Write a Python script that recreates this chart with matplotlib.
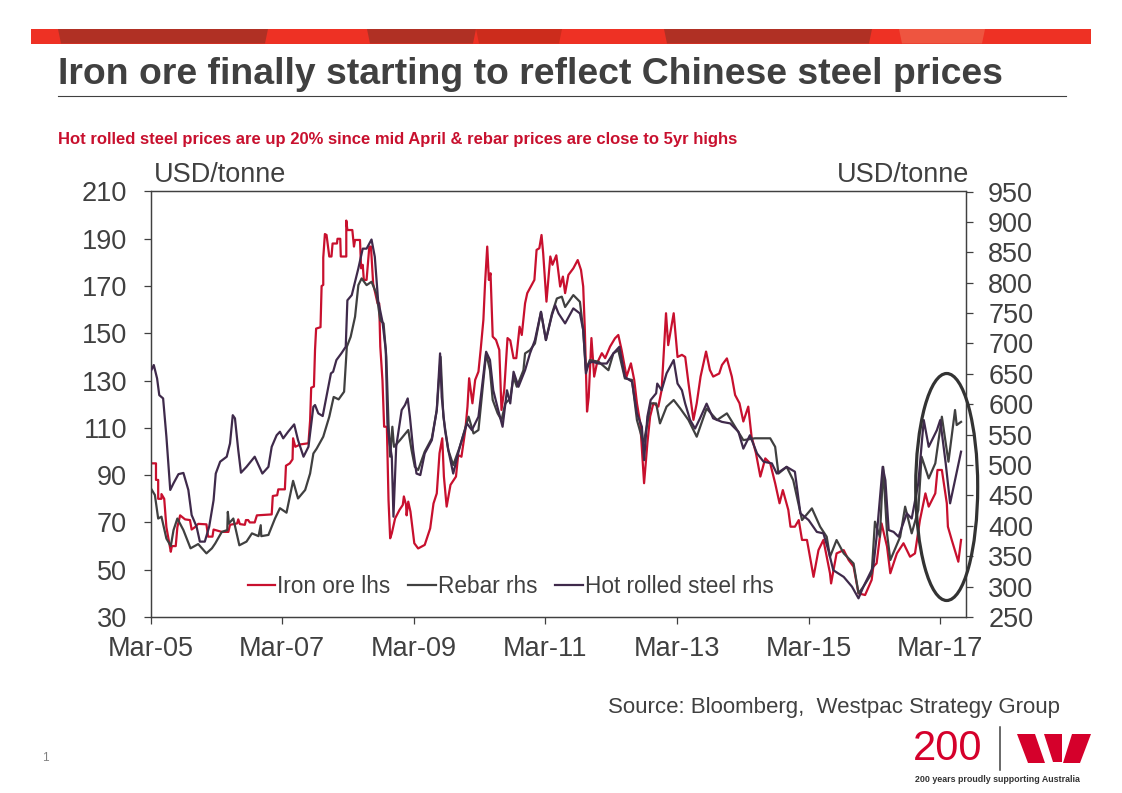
import matplotlib
matplotlib.use("Agg")
import matplotlib.pyplot as plt
from matplotlib.patches import Ellipse, Polygon, Rectangle

plt.rcParams["font.family"] = ["Liberation Sans", "DejaVu Sans"]

# x values are months since Mar-05
iron_t = [0, 1, 1, 1.4, 1.4, 2, 2, 2.5, 2.9, 3.7, 3.9, 4.6, 4.9, 5.4, 6.3, 7.2, 7.5, 8.1, 8.7, 10.2, 10.5, 11.3, 11.5, 13, 14.2, 14.5, 15.8, 16, 16.3, 17.2,
          17.4, 17.8, 18.1, 19, 19.4, 22.1, 22.3, 23.1, 23.3, 24.5, 24.7, 25.4, 25.9, 26, 26.4, 27.3, 28.8, 29.1, 29.3, 29.8, 30, 30.2, 31, 31.2, 31.5, 31.5, 31.8, 32.1, 32.6, 33,
          33.2, 34, 34.1, 34.6, 34.7, 35.7, 35.7, 35.9, 36.8, 37.1, 37.3, 38.2, 38.4, 38.7, 38.9, 39.4, 39.9, 40.2, 40.6, 41.4, 41.7, 41.9, 42.3, 42.6, 43.1, 43.4, 43.7, 44, 44.6, 45.4,
          46, 46.2, 46.6, 46.7, 47, 47.4, 48.1, 48.8, 50, 51, 51.6, 52.2, 52.7, 53.2, 53.5, 54, 54.7, 55.7, 56.1, 56.7, 57.4, 57.8, 58.1, 58.7, 59.2, 59.8, 60.2, 60.7, 61, 61.4,
          61.7, 62, 62.4, 63, 63.6, 64, 64.5, 65.1, 65.6, 66.2, 66.7, 67.3, 67.7, 68.3, 68.7, 69.5, 70, 70.4, 70.9, 71.3, 71.6, 72.2, 72.9, 73.3, 74, 74.7, 75.2, 75.6, 76.2, 77.1,
          77.9, 78.5, 78.9, 79.2, 79.6, 79.9, 80.4, 80.9, 81.4, 82.3, 82.9, 83.8, 84.7, 85.3, 85.9, 86.8, 87.6, 88.2, 88.7, 89.3, 90, 90.6, 91.1, 91.7, 92.6, 93.2, 94, 94.4, 95.4, 96.1,
          96.9, 97.5, 98.1, 99, 99.6, 100.3, 101.3, 102, 102.6, 103.7, 104.2, 105.1, 106, 106.6, 107.4, 108.1, 109, 109.6, 110.4, 111.2, 112.1, 113, 113.9, 114.7, 115.3, 116.3, 116.7, 117.5, 118.2, 118.8,
          119.7, 120.9, 121.8, 122.7, 123.9, 124.1, 125.1, 126.4, 127.3, 128.2, 129.1, 130.3, 131.5, 131.8, 132.4, 133.3, 134.3, 134.9, 136.1, 137.3, 138.5, 139.4, 140.3, 141.3, 141.9, 143.1, 143.5, 144.3, 145.2, 145.4,
          146.1, 147.3, 147.8]
iron_v = [95, 95, 88, 88, 80, 80, 82, 80, 68, 57.6, 60, 60, 68, 73, 71.3, 71, 67, 68, 69.4, 69.2, 64, 64, 67, 66, 66, 69, 69.6, 71.3, 69.3, 69,
          71, 71, 70, 70, 73, 73.4, 81.2, 81.5, 84, 84, 94, 95, 96.7, 105.6, 102, 103, 103.5, 113, 127, 127.5, 143, 152, 152.6, 170, 170.5, 182, 192, 191.6, 182.5, 182.5,
          188, 188, 190, 190, 182.5, 182.5, 197.7, 193.7, 193.7, 186.7, 189.5, 189.5, 177.5, 179, 172.6, 172.6, 186.7, 186.7, 171, 162.7, 162.7, 144.4, 130, 110.5, 110.5, 79.5, 63.3, 65.4, 71.7, 75.3,
          77.4, 81, 77.4, 73, 78.8, 74.6, 61.2, 59, 60.5, 67.5, 78, 82.3, 99.3, 105.6, 89.4, 76.7, 85.9, 89.4, 98.5, 97.8, 109, 119, 131, 120.4, 130.3, 133.8, 143, 155.7, 171, 186.7,
          172.6, 175.4, 148.6, 147.2, 143, 117.6, 126, 148, 147, 139.5, 139.5, 152.8, 149.3, 162.7, 167, 170.5, 172.6, 185.3, 186, 191.6, 183.9, 163.4, 182.5, 179, 183, 169.8, 174, 167, 174.7, 177.5,
          181, 176.8, 169.8, 151.4, 116.9, 123, 148, 131.7, 137.3, 141.6, 139.5, 144.4, 147.9, 149.3, 143, 131.7, 137.3, 130.3, 120.4, 112, 86.6, 103.5, 114.8, 120.4, 119, 126, 158.5, 145, 158.5, 140,
          140.9, 140, 128.9, 113.4, 120.4, 131.7, 142.3, 134.5, 131.7, 133, 136.6, 139.4, 131.7, 123.9, 120.4, 112.7, 119, 106.3, 99.3, 89.4, 97.1, 95, 86.6, 78.1, 83.7, 75.3, 68.2, 68.2, 71, 62.6,
          62.6, 47, 58.3, 62.6, 48.5, 44.2, 56.9, 58.3, 54.1, 51.3, 40, 39.3, 45.7, 51.3, 52.7, 69.6, 59.8, 48.5, 56.9, 61.2, 55.5, 56.9, 71, 82.3, 76.7, 82.3, 92.2, 92.2, 78.1, 68.2,
          62.6, 53.4, 62.6]

rebar_t = [0, .8, 1.4, 2, 2.9, 3.7, 4.2, 4.9, 6, 7.3, 8.7, 10.2, 11.2, 11.8, 13, 14, 14.1, 14.3, 15.1, 16.2, 17.5, 18.5, 19.7, 20.1, 20.2, 21.5, 22.7, 23.6, 24.8, 26,
           26.9, 28.2, 29.1, 29.7, 30.3, 31.5, 32.6, 33.4, 34.3, 35.3, 35.8, 36.5, 37.3, 37.9, 38.5, 39.4, 40.3, 41.2, 41.9, 42.5, 43, 43.4, 43.7, 44.1, 44.4, 45.5, 47, 47.6, 48.2, 48.8,
           50, 51.3, 52.2, 52.9, 53.4, 54.3, 55.2, 56.4, 58, 58.9, 59.8, 60.6, 61.2, 61.9, 62.4, 63.3, 64, 64.7, 65.6, 66.2, 66.8, 68, 68.3, 69.2, 70.1, 71.2, 72.1, 73.2, 74.1, 75,
           75.6, 77.1, 78.3, 78.9, 79.4, 80.1, 81.7, 83.5, 84.4, 85.3, 86.5, 87.8, 88.7, 89.9, 90.6, 91.2, 92.2, 92.9, 94.1, 95.4, 96.6, 98.1, 99.6, 101.4, 103.3, 105.1, 106.6, 108.1, 110.2, 113,
           113.9, 114.5, 116, 117.2, 118.8, 120.6, 122.1, 123.3, 123.9, 125.1, 126.4, 128.2, 129.1, 130, 131.5, 132.1, 133, 133.6, 134.3, 134.9, 136.7, 137.6, 138.8, 140, 140.6, 141.9, 143.1, 144.3, 145.5, 146.7,
           147, 147.8]
rebar_v = [462.7, 450.7, 412, 415, 379, 366.8, 393, 412, 393, 363, 370, 354.7, 363, 371, 390, 393, 423, 404, 412, 368, 374, 387.6, 383, 401, 383, 385, 412, 429, 421.6, 474,
           445, 459, 486, 519, 527, 546.6, 579.5, 612, 608, 620.6, 694.6, 711, 744, 796, 807, 796, 801.5, 782, 738, 733, 678, 568.5, 513.7, 563, 530, 541, 557.6, 524.7, 497, 491.8,
           522, 544, 590.5, 678, 579.5, 524.7, 500, 530, 579.5, 552, 557.6, 628.8, 683.7, 656, 607, 585, 574, 601.4, 609.6, 645, 628.8, 656, 683.7, 689, 700, 752, 705.6, 749, 774, 777,
           760, 779.6, 768.6, 722, 656, 672.7, 670, 656, 683.7, 689, 642.5, 640, 574, 535.6, 568.5, 601.4, 601.4, 568.5, 596, 607, 593, 574, 546.6, 593, 574, 585, 563, 541, 544, 544,
           530, 486, 497, 475, 409.5, 428.7, 398.6, 382, 349, 376.6, 354.7, 338, 289, 300, 321.8, 406.8, 382, 497, 387.6, 343.7, 382, 431.5, 387.6, 426, 513.7, 478, 502.7, 579.5, 505.5, 590.5,
           565.8, 571]

hot_t = [0, .6, 1.2, 1.6, 2.3, 2.9, 3.6, 4.2, 5.1, 6, 6.9, 7.5, 8.4, 9, 9.9, 10.7, 11.5, 11.9, 12.7, 13.9, 14.5, 15, 15.4, 16, 16.5, 17.5, 19, 20.4, 21.5, 22.1,
         23, 23.6, 24.2, 25.1, 26.2, 26.9, 27.9, 28.8, 29.7, 30, 30.6, 31.4, 32.9, 33.3, 33.9, 34.8, 35.6, 35.9, 36.7, 37, 37.9, 38.7, 39.4, 40.3, 40.9, 41.5, 42.3, 42.9, 43.2, 43.6,
         44, 44.3, 44.8, 45.8, 46.4, 46.9, 47.3, 47.9, 48.5, 49.2, 50, 51.3, 52.2, 52.8, 53.1, 53.7, 54.3, 55.2, 56.4, 57.7, 58.6, 59.8, 60.6, 61.2, 61.9, 62.5, 63.4, 64.2, 65, 65.6,
         66.2, 67.1, 68.3, 69.2, 70.1, 71.2, 72.1, 73.2, 73.8, 74.4, 75.6, 77.1, 78.3, 78.9, 79.4, 79.9, 80.5, 81.7, 83.2, 84.4, 85.5, 86.5, 87.8, 88.7, 89.6, 90, 90.6, 91.2, 92.2, 92.4,
         93.2, 94.1, 95.4, 96.1, 96.9, 97.5, 98.4, 99.3, 100.2, 101.4, 102.6, 104.2, 105.7, 107.2, 108.1, 109.3, 110.6, 111.8, 113.3, 114.2, 116, 117.5, 118.5, 120, 121.5, 122.7, 123.6, 124.5, 126.4, 127.9,
         129.1, 130, 131.8, 132.4, 133.5, 134, 134.6, 135.5, 136.4, 137.9, 138.8, 140, 141, 141.9, 143.4, 144, 145, 145.8, 146.7, 147.8]
hot_v = [653.5, 664.5, 642.5, 615, 609.6, 546.6, 459, 470, 485, 487, 459, 417.8, 398.6, 374, 374, 398.6, 442, 486, 505.5, 513.7, 535.6, 582, 576.8, 524.7, 487.4, 497, 513.7, 486, 497, 530,
         549, 554.8, 543.9, 554.8, 566.9, 541, 513.7, 530, 596, 598.7, 585, 580.6, 650.8, 653.5, 672.7, 683.7, 694.6, 771, 779.6, 790.6, 823.5, 856, 856, 871, 842.6, 771, 735.7, 689, 568.5, 535.6,
         513.7, 415, 530, 590.5, 598.7, 609.6, 579.5, 524.7, 486, 483.5, 519, 541, 590.5, 683.7, 612, 557.6, 524.7, 486, 530, 568.5, 557.6, 579.5, 639.8, 686.4, 672.7, 623, 590.5, 563, 623, 601.4,
         653.5, 628.8, 656, 683.7, 705.6, 752, 705.6, 746.7, 763, 749.4, 733, 757.7, 749.4, 722, 650.8, 667, 670, 667, 667, 683.7, 694.6, 645, 637, 585, 563, 508, 579.5, 607, 618, 634,
         623, 650.8, 672.7, 634, 623, 601, 574, 560, 576.8, 601, 576.8, 571, 568.5, 554.8, 527, 549, 519, 505.5, 502.7, 486, 497, 489, 420.5, 409.5, 390, 387.6, 360, 327, 316, 300,
         280.7, 300, 332.8, 382, 497, 475, 393, 390, 382, 420.5, 412, 470, 574, 530, 557.6, 574, 502.7, 437, 475, 522]

tick_months = [0, 24, 48, 72, 96, 120, 144]
tick_labels = ["Mar-05", "Mar-07", "Mar-09", "Mar-11", "Mar-13", "Mar-15", "Mar-17"]
left_ticks = list(range(30, 211, 20))
right_ticks = list(range(250, 951, 50))

GREY = "#404040"
RED = "#c8102e"
PURPLE = "#3f2a4b"

W, H = 1122, 793
fig = plt.figure(figsize=(W / 100, H / 100), dpi=100, facecolor="white")

ax = fig.add_axes([150.5 / W, (H - 617) / H, 815.5 / W, 425.5 / H])
ax2 = ax.twinx()

iron_line, = ax.plot(iron_t, iron_v, color=RED, lw=1.6, label="Iron ore lhs", zorder=3)
rebar_line, = ax2.plot(rebar_t, rebar_v, color=GREY, lw=1.6, label="Rebar rhs", zorder=3)
hot_line, = ax2.plot(hot_t, hot_v, color=PURPLE, lw=1.6, label="Hot rolled steel rhs", zorder=4)

ax.set_xlim(0, 148.7)
ax.set_ylim(30, 210)
ax2.set_ylim(250, 950)
ax.set_xticks(tick_months)
ax.set_xticklabels(tick_labels)
ax.set_yticks(left_ticks)
ax2.set_yticks(right_ticks)

for a in (ax, ax2):
    for s in a.spines.values():
        s.set_color(GREY)
        s.set_linewidth(0.9)
    a.tick_params(colors=GREY, labelsize=19.5, length=5, width=0.9)
ax.tick_params(axis="x", pad=9)
ax.tick_params(axis="y", pad=12)
ax2.tick_params(axis="y", pad=11)

ax2.legend(handles=[iron_line, rebar_line, hot_line], loc="lower left", bbox_to_anchor=(0.119, 0.045),
           ncols=3, frameon=False, fontsize=16.3, labelcolor=GREY, handlelength=1.2, handletextpad=0.1,
           columnspacing=0.8, borderpad=0, borderaxespad=0)

# page furniture, in pixel coordinates
page = fig.add_axes([0, 0, 1, 1], zorder=5)
page.set_xlim(0, W)
page.set_ylim(H, 0)
page.axis("off")

page.add_patch(Rectangle((31, 29), 1060, 14.5, color="#ee3124", lw=0))
for x0, x1, c in [(58, 268, "#b03024"), (367, 476, "#b03024"), (476, 562, "#cc2c1c"),
                  (664, 872, "#b03024"), (899, 985, "#ee5540")]:
    page.add_patch(Polygon([(x0, 29), (x1, 29), (x1 - 3, 43.5), (x0 + 3, 43.5)], color=c, lw=0))

page.text(58, 75, "Iron ore finally starting to reflect Chinese steel prices", color=GREY,
          fontsize=26.9, fontweight="bold", va="center", ha="left")
page.plot([58, 1066], [96, 96], color=GREY, lw=0.8)
page.text(58, 139.5, "Hot rolled steel prices are up 20% since mid April & rebar prices are close to 5yr highs",
          color=RED, fontsize=12, fontweight="bold", va="center", ha="left")
page.text(154, 175, "USD/tonne", color=GREY, fontsize=19.5, va="center", ha="left")
page.text(969, 175, "USD/tonne", color=GREY, fontsize=19.5, va="center", ha="right")
page.text(1060, 707, "Source: Bloomberg,  Westpac Strategy Group", color=GREY, fontsize=16, va="center", ha="right")
page.text(45, 758, "1", color="#808080", fontsize=8.5, va="center", ha="center")

page.add_patch(Ellipse((946.7, 487), 62, 227, fill=False, ec="#333333", lw=2.3))

# 200 / Westpac logo
page.text(948, 749, "200", color="#d5002b", fontsize=30, va="center", ha="center")
page.plot([1000, 1000], [727, 770], color=GREY, lw=1.1)
for pts in [[(1017, 734), (1035, 734), (1045, 763), (1028, 763)],
            [(1044, 734), (1062, 734), (1062, 762), (1053, 762)],
            [(1072, 734), (1091, 734), (1080, 763), (1063, 763)]]:
    page.add_patch(Polygon(pts, color="#d5002b", lw=0))
page.text(997, 780, "200 years proudly supporting Australia", color="#333333", fontsize=6.4, fontweight="bold",
          va="center", ha="center")

fig.savefig("out.png", dpi=100)
